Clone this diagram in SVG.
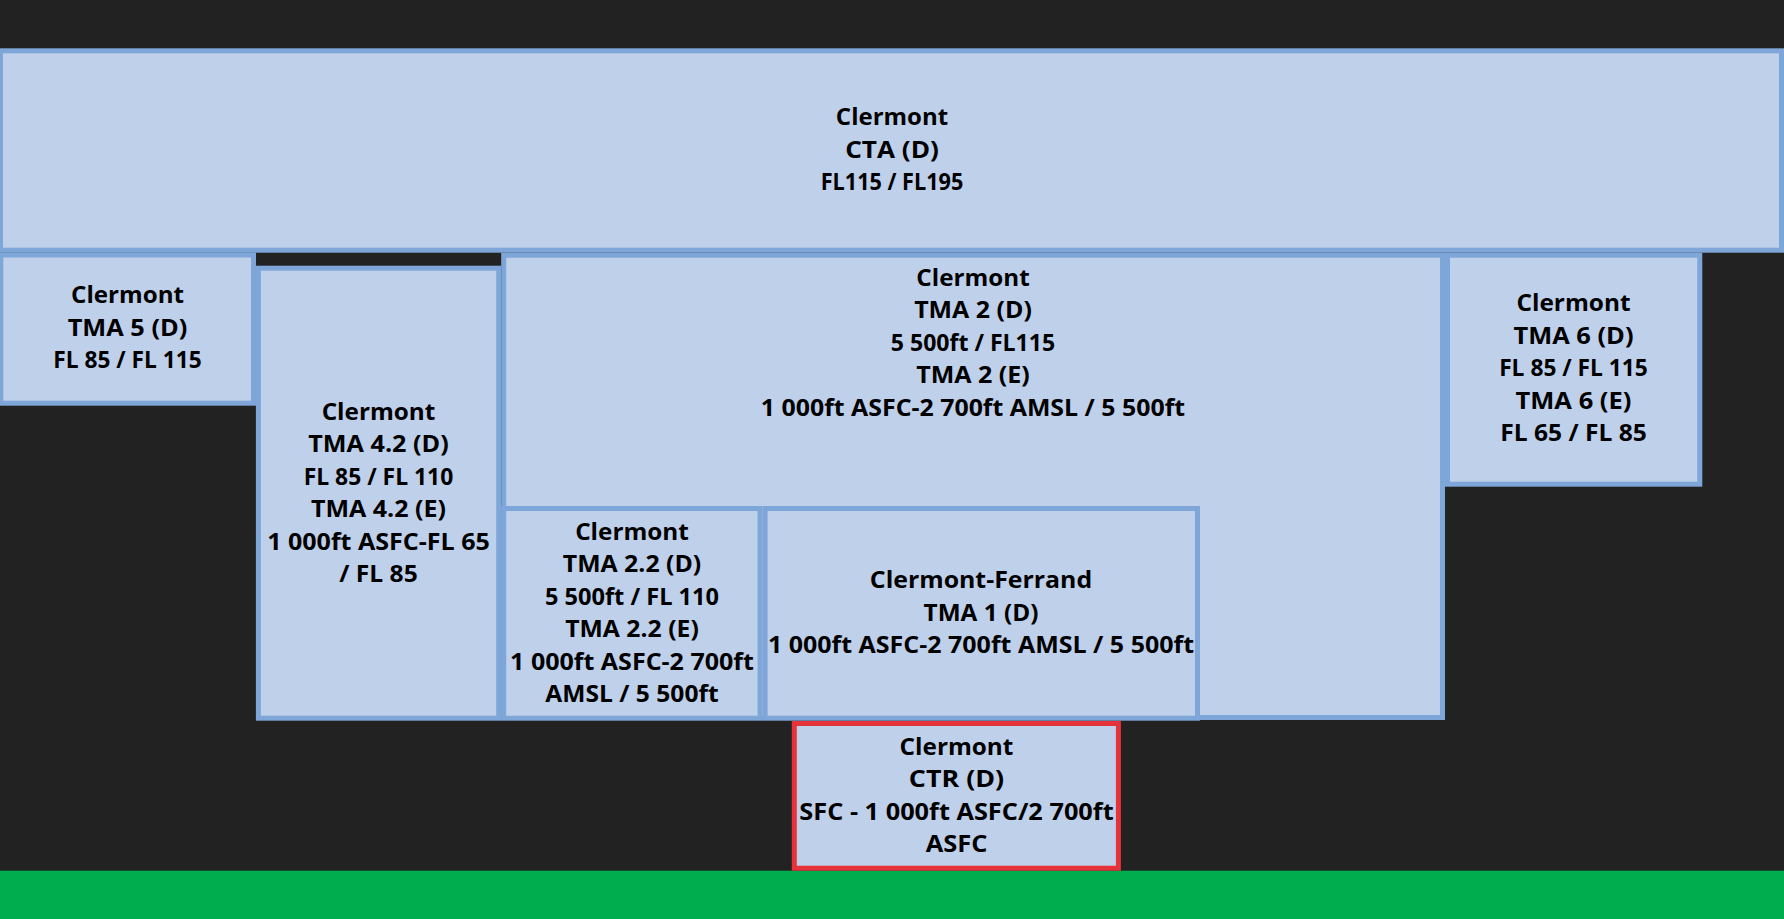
<svg xmlns="http://www.w3.org/2000/svg" width="1784" height="919" viewBox="0 0 1784 919">
<style>
.bg{fill:#222222}
.zone{fill:#BFD0EA;stroke:#7FA6D8;stroke-width:5}
.ctr{fill:#BFD0EA;stroke:#E5333B;stroke-width:5}
.ground{fill:#00AD4E}
text{font-family:"Open Sans","Liberation Sans",sans-serif;font-weight:700;font-size:22.5px;fill:#000;text-anchor:middle}
</style>
<rect class="bg" x="0" y="0" width="1784" height="919"/>
<rect class="ground" x="0" y="870.7" width="1784" height="48.3"/>
<g id="cta">
<rect class="zone" x="0.5" y="50.8" width="1781" height="199.4"/>
<text x="892" y="125" textLength="112.3" lengthAdjust="spacingAndGlyphs">Clermont</text>
<text x="892" y="157.5" textLength="93.7" lengthAdjust="spacingAndGlyphs">CTA (D)</text>
<text x="892" y="190" textLength="142.7" lengthAdjust="spacingAndGlyphs">FL115 / FL195</text>
</g>
<g id="tma5">
<rect class="zone" x="0.8" y="255" width="252.7" height="148.2"/>
<text x="127.5" y="303.2" textLength="113" lengthAdjust="spacingAndGlyphs">Clermont</text>
<text x="127.5" y="335.7" textLength="119.7" lengthAdjust="spacingAndGlyphs">TMA 5 (D)</text>
<text x="127.5" y="368.2" textLength="148.3" lengthAdjust="spacingAndGlyphs">FL 85 / FL 115</text>
</g>
<g id="tma42">
<rect class="zone" x="258.4" y="268.2" width="240.3" height="450"/>
<text x="378.5" y="419.7" textLength="113.7" lengthAdjust="spacingAndGlyphs">Clermont</text>
<text x="378.5" y="452.2" textLength="140.5" lengthAdjust="spacingAndGlyphs">TMA 4.2 (D)</text>
<text x="378.5" y="484.7" textLength="149.6" lengthAdjust="spacingAndGlyphs">FL 85 / FL 110</text>
<text x="378.5" y="517.2" textLength="135.1" lengthAdjust="spacingAndGlyphs">TMA 4.2 (E)</text>
<text x="378.5" y="549.7" textLength="222.7" lengthAdjust="spacingAndGlyphs">1 000ft ASFC-FL 65</text>
<text x="378.5" y="582.2" textLength="78.5" lengthAdjust="spacingAndGlyphs">/ FL 85</text>
</g>
<g id="tma2">
<rect class="zone" x="503.7" y="255.2" width="938.8" height="462.3"/>
<text x="973" y="285.7" textLength="113.3" lengthAdjust="spacingAndGlyphs">Clermont</text>
<text x="973" y="318.2" textLength="117.7" lengthAdjust="spacingAndGlyphs">TMA 2 (D)</text>
<text x="973" y="350.7" textLength="164.3" lengthAdjust="spacingAndGlyphs">5 500ft / FL115</text>
<text x="973" y="383.2" textLength="113.7" lengthAdjust="spacingAndGlyphs">TMA 2 (E)</text>
<text x="973" y="415.7" textLength="424.3" lengthAdjust="spacingAndGlyphs">1 000ft ASFC-2 700ft AMSL / 5 500ft</text>
</g>
<g id="tma22">
<rect class="zone" x="503.7" y="508.5" width="256.4" height="209.7"/>
<text x="632" y="539.7" textLength="113.7" lengthAdjust="spacingAndGlyphs">Clermont</text>
<text x="632" y="572.2" textLength="138.5" lengthAdjust="spacingAndGlyphs">TMA 2.2 (D)</text>
<text x="632" y="604.7" textLength="174.1" lengthAdjust="spacingAndGlyphs">5 500ft / FL 110</text>
<text x="632" y="637.2" textLength="133.6" lengthAdjust="spacingAndGlyphs">TMA 2.2 (E)</text>
<text x="632" y="669.7" textLength="243.8" lengthAdjust="spacingAndGlyphs">1 000ft ASFC-2 700ft</text>
<text x="632" y="702.2" textLength="173.4" lengthAdjust="spacingAndGlyphs">AMSL / 5 500ft</text>
</g>
<g id="tma1">
<rect class="zone" x="765.1" y="508.5" width="432.4" height="209.7"/>
<text x="981" y="588.2" textLength="222.4" lengthAdjust="spacingAndGlyphs">Clermont-Ferrand</text>
<text x="981" y="620.7" textLength="114.8" lengthAdjust="spacingAndGlyphs">TMA 1 (D)</text>
<text x="981" y="653.2" textLength="426" lengthAdjust="spacingAndGlyphs">1 000ft ASFC-2 700ft AMSL / 5 500ft</text>
</g>
<g id="tma6">
<rect class="zone" x="1447.5" y="255.2" width="252.3" height="229"/>
<text x="1573.5" y="311.4" textLength="114" lengthAdjust="spacingAndGlyphs">Clermont</text>
<text x="1573.5" y="343.7" textLength="120" lengthAdjust="spacingAndGlyphs">TMA 6 (D)</text>
<text x="1573.5" y="376.2" textLength="148.7" lengthAdjust="spacingAndGlyphs">FL 85 / FL 115</text>
<text x="1573.5" y="408.7" textLength="116" lengthAdjust="spacingAndGlyphs">TMA 6 (E)</text>
<text x="1573.5" y="441.2" textLength="146.7" lengthAdjust="spacingAndGlyphs">FL 65 / FL 85</text>
</g>
<g id="ctr">
<rect class="ctr" x="794.3" y="723.5" width="324.1" height="144.7"/>
<text x="956.5" y="754.7" textLength="113.8" lengthAdjust="spacingAndGlyphs">Clermont</text>
<text x="956.5" y="787.2" textLength="95.4" lengthAdjust="spacingAndGlyphs">CTR (D)</text>
<text x="956.5" y="819.7" textLength="314.3" lengthAdjust="spacingAndGlyphs">SFC - 1 000ft ASFC/2 700ft</text>
<text x="956.5" y="852.2" textLength="61.7" lengthAdjust="spacingAndGlyphs">ASFC</text>
</g>
<g id="connectors"></g>
</svg>
